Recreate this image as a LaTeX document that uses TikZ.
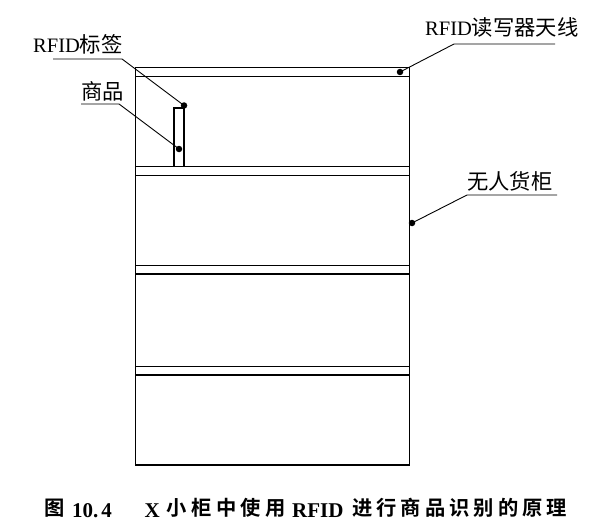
\documentclass[tikz,border=0pt]{standalone}
\usepackage{fontspec}
\setmainfont{Liberation Serif}
\newfontfamily\cjk{Noto Sans CJK SC}[Scale=1.04]
\newfontfamily\cjkb{Noto Sans CJK SC}[BoldFont={* Bold}]
\begin{document}
\begin{tikzpicture}[x=1pt,y=-1pt,
  frame/.style={line width=1.3pt},
  leader/.style={line width=0.9pt},
  dotmark/.style={circle,fill=black,inner sep=0pt,minimum size=6.5pt},
  lbl/.style={anchor=base west,inner sep=0pt,font=\fontsize{20.5}{22}\selectfont},
  captxt/.style={anchor=base west,inner sep=0pt,font=\fontsize{21}{23}\selectfont\bfseries},
  capcjk/.style={anchor=base west,inner sep=0pt,font=\fontsize{20.3}{22}\selectfont\cjkb\bfseries}]
\useasboundingbox (0,0) rectangle (602,532);
% cabinet
\draw[frame] (135.5,67.5) rectangle (409.5,465);
\foreach \y in {76.5,166.7,175.5,265.5,274,366.5,375}
  \draw[frame] (135.5,\y) -- (409.5,\y);
% product
\draw[frame] (174,108) rectangle (184,166.7);
% dots
\node[dotmark] (tag) at (184,105.5) {};
\node[dotmark] (prod) at (179,149) {};
\node[dotmark] (ant) at (400,72) {};
\node[dotmark] (cab) at (412,223) {};
% labels
\node[lbl] (ltag) at (33,53) {RFID{\cjk 标签}};
\node[lbl] (lprod) at (81,100) {\cjk 商品};
\node[lbl] (lant) at (425,36) {RFID{\cjk 读写器天线}};
\node[lbl] (lcab) at (467,189.5) {\cjk 无人货柜};
% leaders
\coordinate (ut1) at (53,59);   \coordinate (ut2) at (122,59);
\coordinate (up1) at (81,104);  \coordinate (up2) at (119,104);
\coordinate (ua1) at (454,44);  \coordinate (ua2) at (555,44);
\coordinate (uc1) at (467,195); \coordinate (uc2) at (557,195);
\draw[leader] (ut1) -- (ut2) -- (tag.center);
\draw[leader] (up1) -- (up2) -- (prod.center);
\draw[leader] (ua2) -- (ua1) -- (ant.center);
\draw[leader] (uc2) -- (uc1) -- (cab.center);
% caption
\def\ca#1{\makebox[24.7pt][l]{#1}}
\def\cc#1{\makebox[24.3pt][l]{#1}}
\node[capcjk] (c1) at (44.5,515.5) {图};
\node[captxt] (c2) at (72,517) {10.\hspace{3pt}4};
\node[captxt] (c3) at (144.5,517) {X};
\node[capcjk] (c4) at (166.5,515.5) {\ca{小}\ca{柜}\ca{中}\ca{使}用};
\node[captxt] (c5) at (292,517) {RFID};
\node[capcjk] (c6) at (352,515.5) {\cc{进}\cc{行}\cc{商}\cc{品}\cc{识}\cc{别}\cc{的}\cc{原}理};
\end{tikzpicture}
\end{document}
